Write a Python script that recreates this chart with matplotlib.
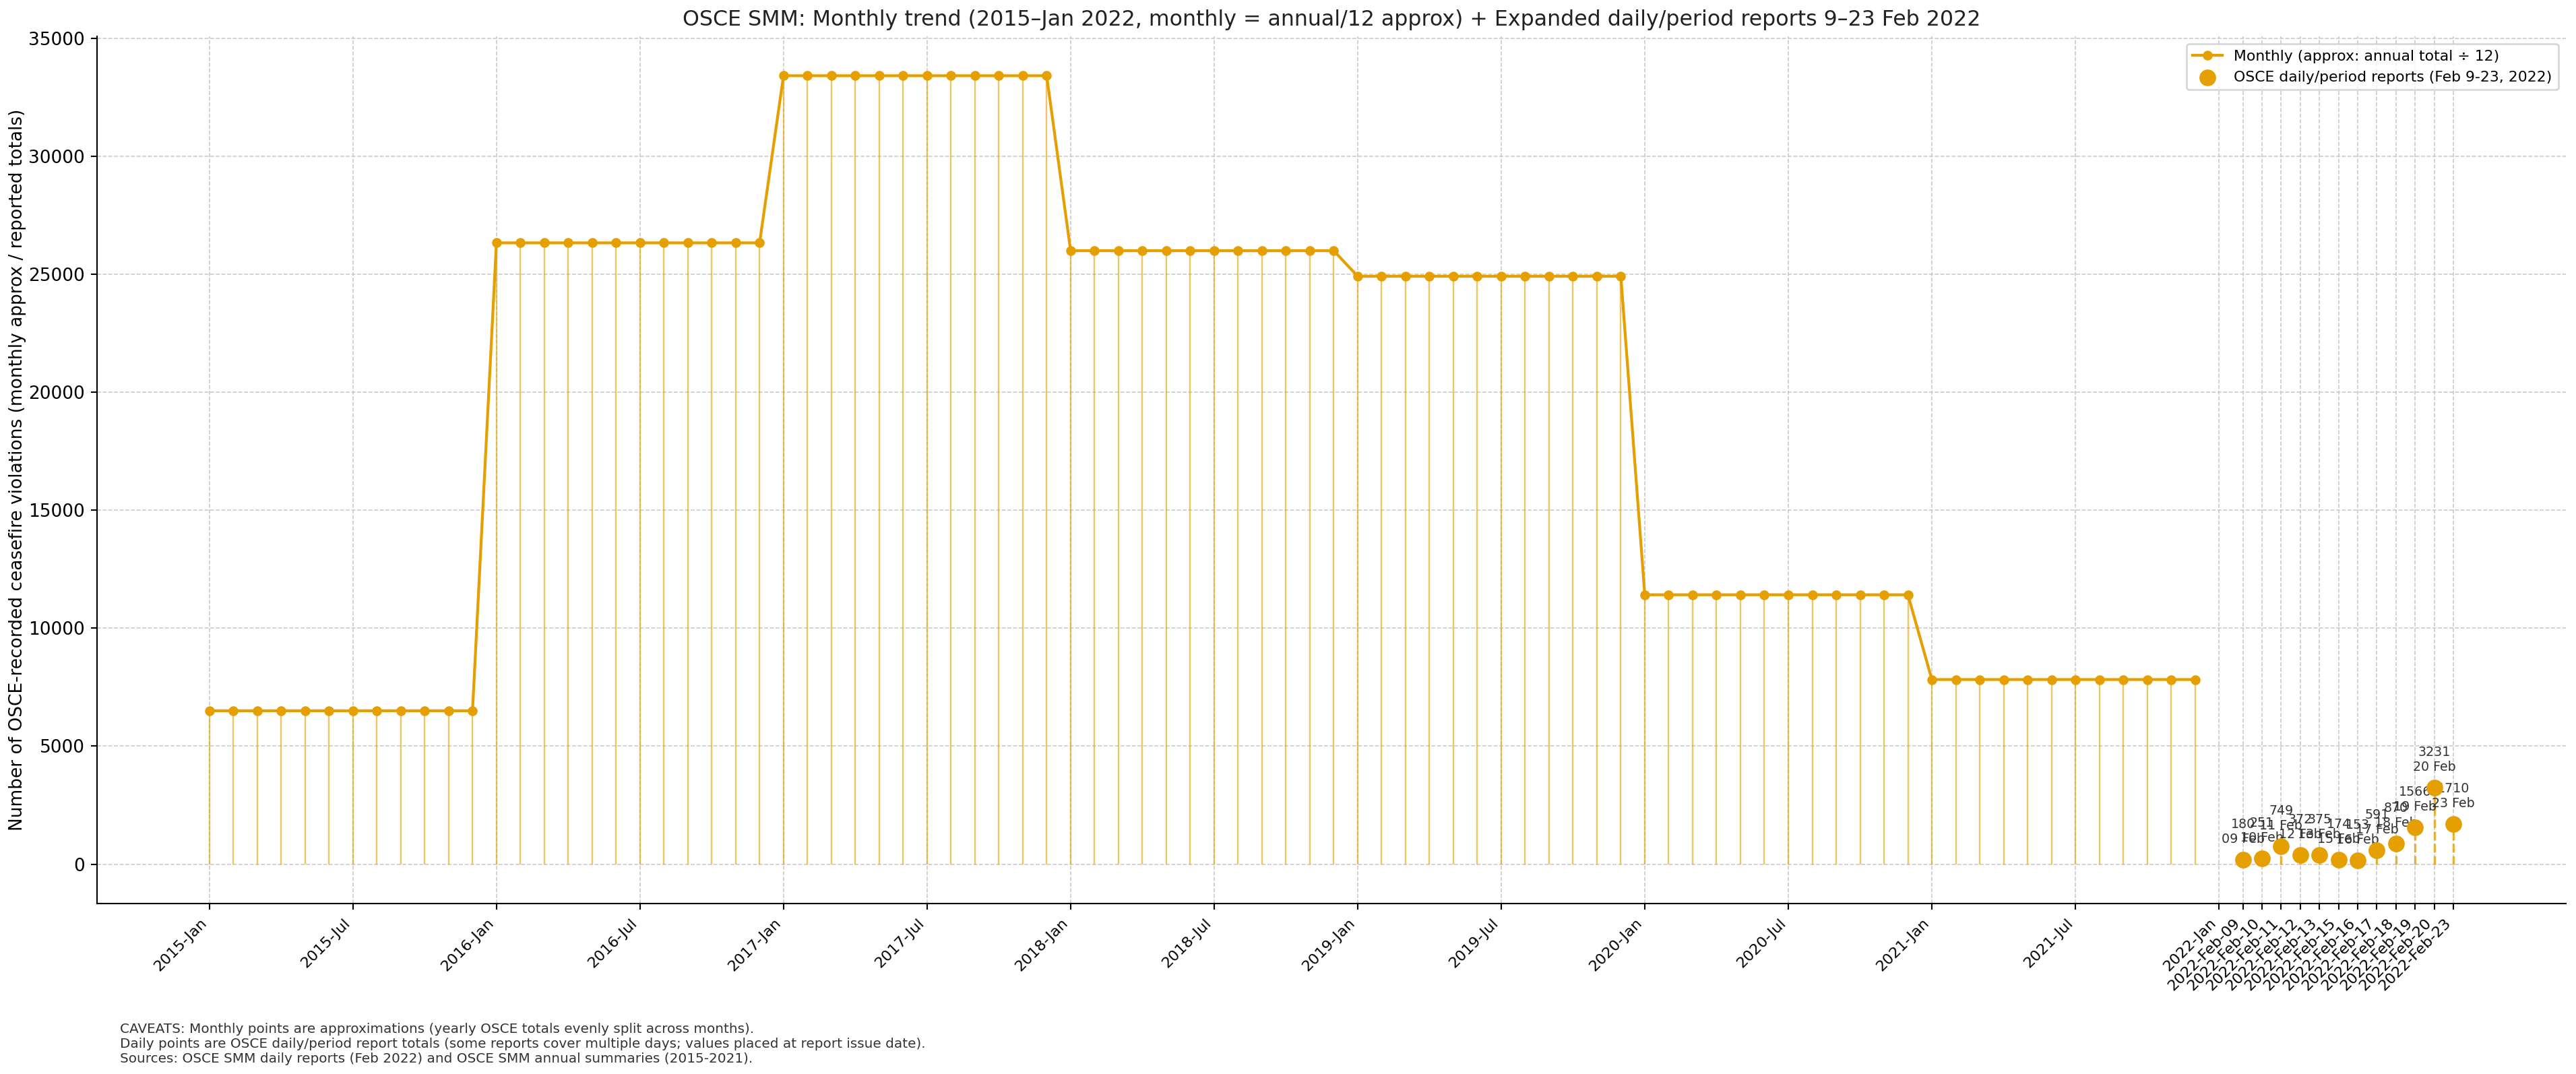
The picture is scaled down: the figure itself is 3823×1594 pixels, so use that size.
import numpy as np
import matplotlib
matplotlib.use("Agg")
import matplotlib.pyplot as plt

# ---- data ----
years = [2015, 2016, 2017, 2018, 2019, 2020, 2021]
# approx monthly value for each year (annual total / 12)
monthly_by_year = [6500, 26333, 33417, 26000, 24917, 11417, 7825]
month_names = ["Jan", "Feb", "Mar", "Apr", "May", "Jun",
               "Jul", "Aug", "Sep", "Oct", "Nov", "Dec"]

daily_dates = ["2022-Feb-09", "2022-Feb-10", "2022-Feb-11", "2022-Feb-12",
               "2022-Feb-13", "2022-Feb-15", "2022-Feb-16", "2022-Feb-17",
               "2022-Feb-18", "2022-Feb-19", "2022-Feb-20", "2022-Feb-23"]
daily_short = ["09 Feb", "10 Feb", "11 Feb", "12 Feb", "13 Feb", "15 Feb",
               "16 Feb", "17 Feb", "18 Feb", "19 Feb", "20 Feb", "23 Feb"]
daily_values = [180, 251, 749, 372, 375, 174, 153, 591, 870, 1566, 3231, 1710]

ORANGE = "#E69F00"

monthly_vals = np.repeat(monthly_by_year, 12)
monthly_labels = [f"{y}-{m}" for y in years for m in month_names]
n_months = len(monthly_vals)
x_month = np.arange(n_months)
# daily reports squeezed after a "2022-Jan" slot
x_daily = n_months + 1 + 0.8 * np.arange(len(daily_values))

fig = plt.figure(figsize=(3824 / 190, 1594 / 190), dpi=190)
ax = fig.add_axes([0.0377, 0.1587, 0.958, 0.8075])

# stems
ax.vlines(x_month, 0, monthly_vals, color=ORANGE, alpha=0.6, lw=0.9, zorder=1)
ax.vlines(x_daily, 0, daily_values, color=ORANGE, alpha=0.75, lw=1.3,
          linestyles="--", zorder=1)

ax.plot(x_month, monthly_vals, color=ORANGE, lw=1.6, marker="o", ms=4.5,
        label="Monthly (approx: annual total \u00f7 12)", zorder=3)
ax.scatter(x_daily, daily_values, s=70, color=ORANGE, zorder=4,
           label="OSCE daily/period reports (Feb 9-23, 2022)")

for xd, v, d in zip(x_daily, daily_values, daily_short):
    ax.annotate(f"{v}\n{d}", (xd, v), xytext=(0, 8), textcoords="offset points",
                ha="center", va="bottom", fontsize=7.2, color="#333333")

# ticks: every 6 months, then 2022-Jan, then each daily report
tick_pos = list(x_month[::6]) + [n_months] + list(x_daily)
tick_lab = monthly_labels[::6] + ["2022-Jan"] + daily_dates
ax.set_xticks(tick_pos)
ax.set_xticklabels(tick_lab, rotation=45, ha="right", fontsize=8.5)
ax.tick_params(axis="y", labelsize=10)

ax.grid(True, ls="--", lw=0.6, color="#c8c8c8")
ax.set_axisbelow(True)
for s in ["top", "right"]:
    ax.spines[s].set_visible(False)

ax.set_ylabel("Number of OSCE-recorded ceasefire violations (monthly approx / reported totals)",
              fontsize=10, labelpad=1)
ax.set_title("OSCE SMM: Monthly trend (2015\u2013Jan 2022, monthly = annual/12 approx) + "
             "Expanded daily/period reports 9\u201323 Feb 2022", fontsize=12, color="#222222")
ax.legend(loc="upper right", fontsize=8.3)

fig.text(0.0466, 0.008,
         "CAVEATS: Monthly points are approximations (yearly OSCE totals evenly split across months).\n"
         "Daily points are OSCE daily/period report totals (some reports cover multiple days; values placed at report issue date).\n"
         "Sources: OSCE SMM daily reports (Feb 2022) and OSCE SMM annual summaries (2015-2021).",
         fontsize=7.6, color="#333333", va="bottom", ha="left")

fig.savefig("out.png", dpi=190)
